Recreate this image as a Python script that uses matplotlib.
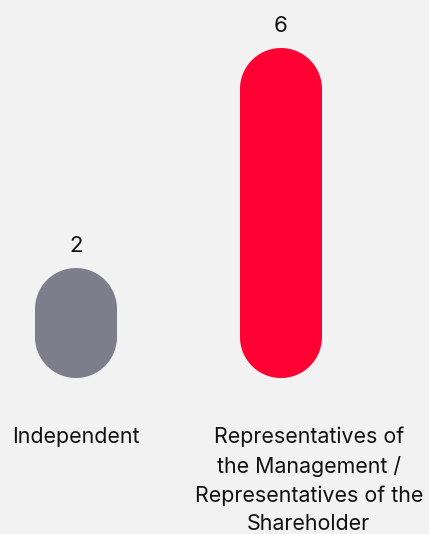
import numpy as np
import matplotlib.pyplot as plt
from matplotlib.patches import Polygon

categories = ["Independent",
              "Representatives of\nthe Management /\nRepresentatives of the\nShareholder"]
values = [2, 6]
colors = ["#7e7d8c", "#ff0033"]
# horizontal nudge of each category label, in points
label_dx = [0, 20]

plt.rcParams['font.family'] = ['Inter', 'DejaVu Sans']

fig = plt.figure(figsize=(4.29, 5.34), dpi=100, facecolor="#f2f2f2")
ax = fig.add_axes([0, 0, 1, 1])
ax.set_facecolor("#f2f2f2")
ax.set_xlim(-0.3707, 1.722)
ax.set_ylim(-2.836, 6.873)
ax.axis("off")

# pill shaped bars: half circles at both ends, sized in pixels
bar_w = 0.4
px_x = fig.bbox.width / np.diff(ax.get_xlim())[0]
px_y = fig.bbox.height / np.diff(ax.get_ylim())[0]
rx = bar_w / 2
ry = rx * px_x / px_y

t = np.linspace(0, np.pi, 60)
for i, (v, c) in enumerate(zip(values, colors)):
    top = np.column_stack([i + rx * np.cos(t), v - ry + ry * np.sin(t)])
    bot = np.column_stack([i - rx * np.cos(t), ry - ry * np.sin(t)])
    ax.add_patch(Polygon(np.vstack([top, bot]), closed=True, facecolor=c,
                         edgecolor="none"))
    ax.annotate(str(v), (i, v), xytext=(0, 9), textcoords="offset points",
                ha="center", va="bottom", fontsize=16, color="#111111")
    ax.annotate(categories[i], (i, 0), xytext=(label_dx[i], -35),
                textcoords="offset points", ha="center", va="top",
                fontsize=15.4, color="#111111", linespacing=1.52,
                multialignment="center")

fig.savefig("out.png", dpi=100, facecolor=fig.get_facecolor())
